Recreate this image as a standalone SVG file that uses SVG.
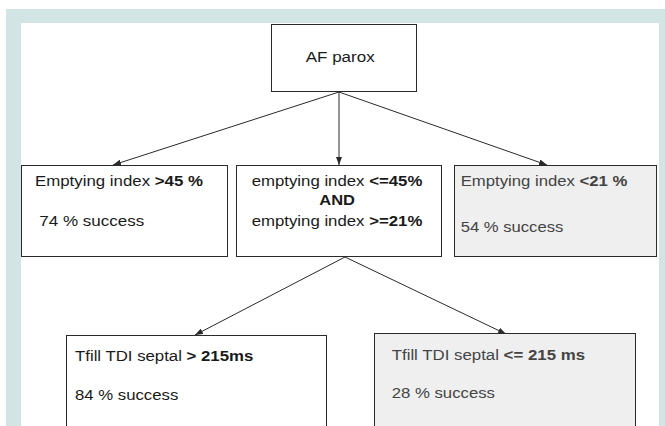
<svg xmlns="http://www.w3.org/2000/svg" width="665" height="426" viewBox="0 0 665 426">
<defs>
<style>
.box{fill:#ffffff;stroke:#2a2a2a;stroke-width:1}
.gbox{fill:#efefef;stroke:#2a2a2a;stroke-width:1}
.t{font-family:"Liberation Sans",Arial,sans-serif;font-size:15.5px;fill:#1a1a1a}
.gt{font-family:"Liberation Sans",Arial,sans-serif;font-size:15.5px;fill:#444444}
.b{font-weight:bold}
.c{stroke:#2a2a2a;stroke-width:1;fill:none;marker-end:url(#ah)}
</style>
<marker id="ah" viewBox="0 0 8 6" refX="8" refY="3" markerWidth="8" markerHeight="6" markerUnits="userSpaceOnUse" orient="auto">
<path d="M0,0 L8,3 L0,6 z" fill="#2a2a2a"/>
</marker>
</defs>
<rect x="6" y="9" width="659" height="417" fill="#d3e4e4"/>
<rect x="21" y="23" width="638" height="403" fill="#ffffff"/>
<g id="connectors">
<line class="c" x1="339" y1="92" x2="113" y2="165"/>
<line class="c" x1="339" y1="92" x2="339" y2="165"/>
<line class="c" x1="339" y1="92" x2="547" y2="165"/>
<line class="c" x1="345" y1="257" x2="195" y2="335"/>
<line class="c" x1="345" y1="257" x2="506" y2="334"/>
</g>
<g id="root">
<rect class="box" x="271.5" y="24.5" width="145" height="67"/>
<text class="t" x="305.7" y="62" textLength="69" lengthAdjust="spacingAndGlyphs">AF parox</text>
</g>
<g id="high">
<rect class="box" x="21.5" y="165.5" width="206" height="91"/>
<text class="t" x="35" y="186" textLength="168" lengthAdjust="spacingAndGlyphs">Emptying index <tspan class="b">&gt;45 %</tspan></text>
<text class="t" x="39.3" y="226" textLength="105" lengthAdjust="spacingAndGlyphs">74 % success</text>
</g>
<g id="mid">
<rect class="box" x="236.5" y="165.5" width="205" height="91"/>
<text class="t" x="251.7" y="186" textLength="170.6" lengthAdjust="spacingAndGlyphs">emptying index <tspan class="b">&lt;=45%</tspan></text>
<text class="t b" x="319.3" y="205" textLength="35.7" lengthAdjust="spacingAndGlyphs">AND</text>
<text class="t" x="251.7" y="226" textLength="170.6" lengthAdjust="spacingAndGlyphs">emptying index <tspan class="b">&gt;=21%</tspan></text>
</g>
<g id="low">
<rect class="gbox" x="454.5" y="165.5" width="202" height="91"/>
<text class="gt" x="460.7" y="186" textLength="166.6" lengthAdjust="spacingAndGlyphs">Emptying index <tspan class="b">&lt;21 %</tspan></text>
<text class="gt" x="460.7" y="231.5" textLength="102.6" lengthAdjust="spacingAndGlyphs">54 % success</text>
</g>
<g id="tfill-high">
<rect class="box" x="66.5" y="335.5" width="260" height="100"/>
<text class="t" x="75" y="360.5" textLength="178.3" lengthAdjust="spacingAndGlyphs">Tfill TDI septal <tspan class="b">&gt; 215ms</tspan></text>
<text class="t" x="75" y="400" textLength="103.3" lengthAdjust="spacingAndGlyphs">84 % success</text>
</g>
<g id="tfill-low">
<rect class="gbox" x="374.5" y="333.5" width="261" height="100"/>
<text class="gt" x="391.7" y="360" textLength="193.3" lengthAdjust="spacingAndGlyphs">Tfill TDI septal <tspan class="b">&lt;= 215 ms</tspan></text>
<text class="gt" x="391.7" y="398" textLength="103.3" lengthAdjust="spacingAndGlyphs">28 % success</text>
</g>
</svg>
